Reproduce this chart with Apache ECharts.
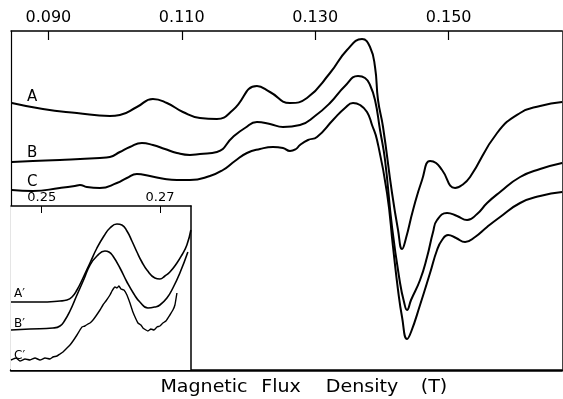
<!DOCTYPE html>
<html>
<head>
<meta charset="utf-8">
<script src="https://cdn.jsdelivr.net/npm/echarts@6/dist/echarts.min.js"></script>
<style>
html,body{margin:0;padding:0;background:#fff;}
#chart{width:563px;height:399px;}
</style>
</head>
<body>
<div id="chart"></div>
<script>
// ---- Main panel data: field (T) and signal (arb. units) ----
const fieldA = [0.08453,0.08918,0.09427,0.09922,0.10072,0.10327,0.10567,0.10777,0.11017,0.11272,0.11527,0.11767,0.12127,0.12322,0.12622,0.12877,0.13222,0.13477,0.13702,0.13822,0.13897,0.13942,0.14017,0.14152,0.14242,0.14302,0.14362,0.14467,0.14602,0.14722,0.14812,0.14902,0.15097,0.15202,0.15322,0.15727,0.16072,0.16372,0.16702];
const valA   = [267,261,257,254,255,263,271,267,258,252,251,260,284,278,267,272,297,320,331,323,303,270,243,177,140,121,132,160,190,209,207,200,182,185,193,237,257,264,268];

const fieldB = [0.08453,0.08768,0.09172,0.09772,0.09922,0.10072,0.10222,0.10402,0.10567,0.10747,0.10927,0.11122,0.11272,0.11527,0.11767,0.11947,0.12127,0.12322,0.12517,0.12772,0.12997,0.13222,0.13447,0.13642,0.13747,0.13822,0.13897,0.13972,0.14047,0.14152,0.14272,0.14332,0.14377,0.14437,0.14572,0.14677,0.14767,0.14827,0.14977,0.15127,0.15277,0.15427,0.15577,0.15772,0.16072,0.16372,0.16702];
const valB   = [208,209,210,212,213,218,223,227,225,221,217,215,216,218,233,242,248,246,243,245,254,267,284,294,292,285,270,240,210,143,87,68,60,70,90,113,138,150,157,154,150,156,167,178,193,201,207];

const fieldC = [0.08453,0.08768,0.09172,0.09397,0.09473,0.09577,0.09772,0.10027,0.10177,0.10327,0.10522,0.10747,0.10927,0.11122,0.11422,0.11617,0.11797,0.11977,0.12172,0.12367,0.12517,0.12622,0.12712,0.12772,0.12892,0.13027,0.13267,0.13447,0.13567,0.13672,0.13777,0.13852,0.13927,0.14077,0.14167,0.14242,0.14302,0.14377,0.14437,0.14572,0.14722,0.14827,0.14902,0.14992,0.15112,0.15247,0.15397,0.15577,0.15772,0.16072,0.16372,0.16702];
const valC   = [180,179,182,184,185,183,182,187,192,196,194,191,190,190,194,200,209,217,221,223,222,219,221,225,230,233,250,262,267,265,258,245,230,177,123,80,53,31,38,65,97,120,130,135,132,128,133,143,153,167,174,178];

// ---- Inset data ----
const fieldA2 = [0.24481,0.24971,0.25309,0.25427,0.25512,0.25596,0.25698,0.25816,0.25934,0.26052,0.26154,0.26272,0.26356,0.26441,0.26525,0.26610,0.26694,0.26779,0.26914,0.26998,0.27083,0.27167,0.27286,0.27370,0.27454,0.27522];
const valA2   = [68,68,69,70,73,80,92,107,122,134,142,146,145,139,129,118,108,100,92,91,94,98,107,115,125,140];

const fieldB2 = [0.24481,0.24802,0.25191,0.25309,0.25394,0.25478,0.25596,0.25715,0.25816,0.25934,0.26069,0.26137,0.26204,0.26323,0.26441,0.26559,0.26660,0.26796,0.26914,0.26998,0.27117,0.27218,0.27336,0.27471];
const valB2   = [40,41,42,44,50,59,75,91,105,114,119,118,114,102,88,76,68,62,63,65,72,82,97,118];

const fieldC2 = [0.24481,0.24566,0.24633,0.24718,0.24802,0.24887,0.24971,0.25056,0.25140,0.25191,0.25258,0.25309,0.25360,0.25410,0.25478,0.25529,0.25596,0.25647,0.25681,0.25731,0.25782,0.25816,0.25867,0.25917,0.25985,0.26035,0.26086,0.26154,0.26188,0.26238,0.26272,0.26306,0.26340,0.26390,0.26441,0.26492,0.26542,0.26593,0.26627,0.26677,0.26711,0.26762,0.26796,0.26846,0.26897,0.26948,0.26998,0.27049,0.27100,0.27167,0.27218,0.27252,0.27286];
const valC2   = [10,12,9,11,10,12,10,12,11,13,14,16,18,21,25,29,35,40,43,44,46,47,50,54,60,65,69,75,79,83,82,84,81,80,75,67,58,51,47,45,42,40,39,41,40,43,44,47,49,55,60,65,77];

// ---- Tick labels and texts ----
const mainTicks = [0.090, 0.110, 0.130, 0.150];
const mainTickLabels = ['0.090', '0.110', '0.130', '0.150'];
const insetTicks = [0.25, 0.27];
const insetTickLabels = ['0.25', '0.27'];
const axisTitle = 'Magnetic Flux Density (T)';
const curveNames = ['A', 'B', 'C'];
const insetNames = ['A\u2032', 'B\u2032', 'C\u2032'];

const zip = (xs, ys) => xs.map((x, i) => [x, ys[i]]);
const FONT = 'DejaVu Sans';

const chart = echarts.init(document.getElementById('chart'), null, {renderer: 'canvas'});

const lineSeries = (name, data, xi, yi, w, sm) => ({
  name, type: 'line', data, xAxisIndex: xi, yAxisIndex: yi,
  showSymbol: false, smooth: sm,
  lineStyle: {color: '#000', width: w}, z: 5, silent: true
});

const fmtMain = v => {
  const i = mainTicks.findIndex(t => Math.abs(t - v) < 1e-6);
  return i >= 0 ? mainTickLabels[i] : '';
};
const fmtInset = v => {
  const i = insetTicks.findIndex(t => Math.abs(t - v) < 1e-6);
  return i >= 0 ? insetTickLabels[i] : '';
};

// The axis title is set word by word (the original uses wide letter spacing)
const titleWords = axisTitle.split(' ');
const titleCenters = [204, 281, 362, 434];
const titleGraphics = titleWords.map((w, i) => ({
  type: 'text', x: titleCenters[i], y: 388, z: 10,
  scaleX: 1.12, originX: 0, originY: 0,
  style: {text: w, font: '17px "DejaVu Sans"', fill: '#000', align: 'center', verticalAlign: 'middle'}
}));

chart.setOption({
  animation: false,
  backgroundColor: '#fff',
  grid: [
    {left: 11, top: 31, width: 551, height: 339, show: false},
    {left: 11, top: 206, width: 180, height: 164, show: true, backgroundColor: '#fff', borderWidth: 0, z: 3}
  ],
  xAxis: [
    {type: 'value', gridIndex: 0, position: 'top', min: 0.0844, max: 0.1670,
     axisLine: {show: true, onZero: false, lineStyle: {color: '#000', width: 1.5}},
     axisTick: {show: true, inside: true, length: 9, customValues: mainTicks, lineStyle: {color: '#000', width: 1.2}},
     axisLabel: {show: true, customValues: mainTicks, formatter: fmtMain, margin: 5, color: '#000', fontFamily: FONT, fontSize: 16},
     splitLine: {show: false}},
    {type: 'value', gridIndex: 0, position: 'bottom', min: 0.0844, max: 0.1670,
     axisLine: {show: true, onZero: false, lineStyle: {color: '#000', width: 2.5}},
     axisTick: {show: false}, axisLabel: {show: false}, splitLine: {show: false}},
    {type: 'value', gridIndex: 1, position: 'top', min: 0.24481, max: 0.27524,
     axisLine: {show: true, onZero: false, lineStyle: {color: '#000', width: 1.5}},
     axisTick: {show: true, inside: true, length: 7, customValues: insetTicks, lineStyle: {color: '#000', width: 1}},
     axisLabel: {show: true, customValues: insetTicks, formatter: fmtInset, margin: 2, color: '#000', fontFamily: FONT, fontSize: 13},
     splitLine: {show: false}, z: 6}
  ],
  yAxis: [
    {type: 'value', gridIndex: 0, position: 'left', min: 0, max: 339,
     axisLine: {show: true, onZero: false, lineStyle: {color: '#000', width: 1.2}},
     axisTick: {show: false}, axisLabel: {show: false}, splitLine: {show: false}},
    {type: 'value', gridIndex: 0, position: 'right', min: 0, max: 339,
     axisLine: {show: true, onZero: false, lineStyle: {color: '#444', width: 1}},
     axisTick: {show: false}, axisLabel: {show: false}, splitLine: {show: false}},
    {type: 'value', gridIndex: 1, position: 'right', min: 0, max: 164,
     axisLine: {show: true, onZero: false, lineStyle: {color: '#000', width: 1.5}},
     axisTick: {show: false}, axisLabel: {show: false}, splitLine: {show: false}, z: 6}
  ],
  series: [
    lineSeries('A', zip(fieldA, valA), 0, 0, 2, 0.5),
    lineSeries('B', zip(fieldB, valB), 0, 0, 2, 0.5),
    lineSeries('C', zip(fieldC, valC), 0, 0, 2, 0.5),
    Object.assign(lineSeries("A'", zip(fieldA2, valA2), 2, 2, 1.6, 0.5), {z: 7}),
    Object.assign(lineSeries("B'", zip(fieldB2, valB2), 2, 2, 1.6, 0.5), {z: 7}),
    Object.assign(lineSeries("C'", zip(fieldC2, valC2), 2, 2, 1.4, 0.15), {z: 7})
  ],
  graphic: [
    {type: 'text', x: 27, y: 90, z: 10, style: {text: curveNames[0], font: '15px "DejaVu Sans"', fill: '#000'}},
    {type: 'text', x: 27, y: 146, z: 10, style: {text: curveNames[1], font: '15px "DejaVu Sans"', fill: '#000'}},
    {type: 'text', x: 27, y: 175, z: 10, style: {text: curveNames[2], font: '15px "DejaVu Sans"', fill: '#000'}},
    {type: 'text', x: 14, y: 288, z: 10, style: {text: insetNames[0], font: '12px "DejaVu Sans"', fill: '#000'}},
    {type: 'text', x: 14, y: 318, z: 10, style: {text: insetNames[1], font: '12px "DejaVu Sans"', fill: '#000'}},
    {type: 'text', x: 14, y: 350, z: 10, style: {text: insetNames[2], font: '12px "DejaVu Sans"', fill: '#000'}}
  ].concat(titleGraphics)
});
</script>
</body>
</html>
